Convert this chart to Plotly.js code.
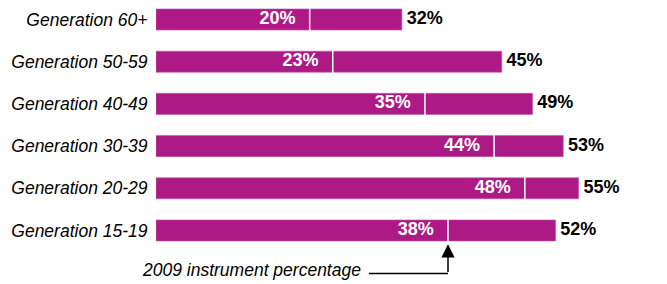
<!DOCTYPE html>
<html>
<head>
<meta charset="utf-8">
<script src="https://cdn.plot.ly/plotly-3.0.1.min.js"></script>
<style>html,body{margin:0;padding:0;background:#fff}#chart{width:667px;height:284px}</style>
</head>
<body>
<div id="chart"></div>
<script>
const categories = ["Generation 15-19","Generation 20-29","Generation 30-39","Generation 40-49","Generation 50-59","Generation 60+"];
const totalPct = [52, 55, 53, 49, 45, 32];
const pct2009 = [38, 48, 44, 35, 23, 20];
const noteText = "2009 instrument percentage";

const FONT = "Liberation Sans, Arial, Helvetica, sans-serif";
const BAR = "#AD1A85";

const traces = [
  {
    type: "bar", orientation: "h",
    y: categories, x: totalPct,
    width: 0.5,
    marker: {color: BAR, line: {color: "#C65AA8", width: 0.6}},
    hoverinfo: "skip"
  },
  {
    type: "scatter", mode: "markers+text",
    y: categories, x: totalPct,
    marker: {size: 6, color: "rgba(0,0,0,0)"},
    text: totalPct.map(v => v + "%"),
    textposition: "middle right",
    textfont: {family: FONT, size: 18, color: "#000", weight: "bold"},
    cliponaxis: false,
    hoverinfo: "skip"
  },
  {
    type: "scatter", mode: "markers+text",
    y: categories, x: pct2009,
    marker: {symbol: "line-ns", size: 21, line: {color: "#fff", width: 1.5}},
    text: pct2009.map(v => v + "%"),
    textposition: "middle left",
    textfont: {family: FONT, size: 18, color: "#fff", weight: "bold"},
    cliponaxis: false,
    hoverinfo: "skip"
  }
];

const yLine = -1.02;
const layout = {
  width: 667, height: 284,
  margin: {l: 156, r: 0, t: 0, b: 0},
  paper_bgcolor: "#fff", plot_bgcolor: "#fff",
  showlegend: false,
  xaxis: {range: [0, 66.5], visible: false, fixedrange: true},
  yaxis: {
    type: "category", categoryorder: "array", categoryarray: categories,
    range: [-1.268, 5.462],
    showgrid: false, zeroline: false, showline: false,
    ticks: "outside", ticklen: 4, tickcolor: "rgba(0,0,0,0)",
    tickfont: {family: FONT, size: 17.5, color: "#000", style: "italic"}
  },
  annotations: [
    {
      x: pct2009[0], y: -0.327, xref: "x", yref: "y",
      ax: pct2009[0], ay: yLine, axref: "x", ayref: "y",
      showarrow: true, arrowhead: 2, arrowsize: 1.75, arrowwidth: 1.5, arrowcolor: "#000",
      text: ""
    },
    {
      x: 26.9, y: -0.93, xref: "x", yref: "y",
      xanchor: "right", yanchor: "middle", showarrow: false,
      text: noteText,
      font: {family: FONT, size: 17.5, color: "#000", style: "italic"}
    }
  ],
  shapes: [
    {type: "line", xref: "x", yref: "y", x0: 27.7, x1: pct2009[0], y0: yLine, y1: yLine,
     line: {color: "#000", width: 1.5}}
  ]
};

Plotly.newPlot("chart", traces, layout, {displayModeBar: false, staticPlot: true});
</script>
</body>
</html>
